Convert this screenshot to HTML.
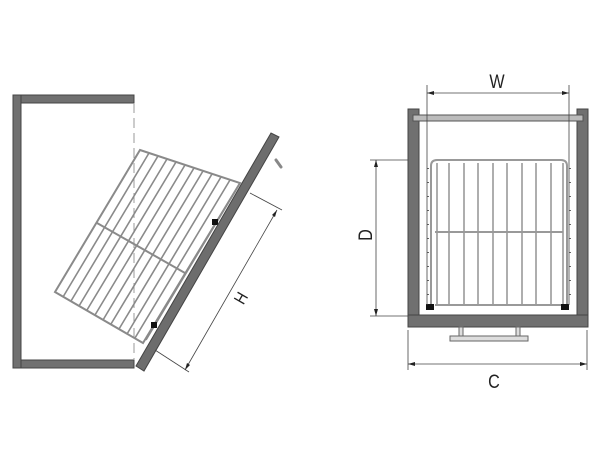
<!DOCTYPE html>
<html><head><meta charset="utf-8"><style>html,body{margin:0;padding:0;background:#fff}svg{display:block}</style></head>
<body>
<svg width="600" height="460" viewBox="0 0 600 460" xmlns="http://www.w3.org/2000/svg" font-family="'Liberation Sans', sans-serif">
<g fill="#707070" stroke="#444" stroke-width="1">
<rect x="13" y="95" width="8" height="273"/>
<rect x="21" y="95" width="113" height="8"/>
<rect x="21" y="360" width="113" height="8"/>
</g>
<line x1="134" y1="103" x2="134" y2="360" stroke="#999" stroke-width="1" stroke-dasharray="10,5"/>
<g stroke="#8a8a8a" stroke-width="1.6" fill="none">
<polygon points="140,150 240,183 143,343 55,292" stroke-width="2"/>
<line x1="149" y1="153" x2="63" y2="297"/>
<line x1="158" y1="156" x2="71" y2="301"/>
<line x1="167" y1="159" x2="79" y2="306"/>
<line x1="176" y1="162" x2="87" y2="310"/>
<line x1="185" y1="165" x2="95" y2="315"/>
<line x1="194" y1="168" x2="103" y2="320"/>
<line x1="203" y1="171" x2="111" y2="324"/>
<line x1="212" y1="174" x2="119" y2="329"/>
<line x1="221" y1="177" x2="127" y2="334"/>
<line x1="230" y1="180" x2="135" y2="338"/>
<line x1="97" y1="223" x2="185" y2="273" stroke-width="2"/>
<line x1="236" y1="190" x2="146" y2="340"/>
</g>
<rect x="212" y="219" width="6" height="6" fill="#111"/>
<rect x="151" y="322" width="6" height="6" fill="#111"/>
<polygon points="136,366 271,133 279,137 144,371" fill="#6d6d6d" stroke="#444" stroke-width="1"/>
<line x1="276" y1="160" x2="281" y2="167" stroke="#888" stroke-width="3" stroke-linecap="round"/>
<g stroke="#444" stroke-width="0.8">
<line x1="250" y1="193" x2="282" y2="210"/>
<line x1="155" y1="350" x2="189" y2="372"/>
<line x1="277" y1="210" x2="185" y2="370"/>
</g>
<polygon points="277,210 272,215 275,217" fill="#222"/>
<polygon points="185,370 190,365 187,363" fill="#222"/>
<text x="0" y="0" font-size="17" fill="#222" transform="translate(246,301) rotate(-60) scale(0.85,1)" text-anchor="middle">H</text>

<g fill="#707070" stroke="#444" stroke-width="1">
<rect x="408" y="109" width="11" height="207"/>
<rect x="577" y="109" width="11" height="207"/>
<rect x="408" y="315" width="180" height="12"/>
</g>
<rect x="413" y="115" width="170" height="6" fill="#bbb" stroke="#555" stroke-width="1"/>
<g fill="#ddd" stroke="#666" stroke-width="1">
<rect x="459" y="327" width="4" height="9"/>
<rect x="516" y="327" width="4" height="9"/>
<rect x="450" y="336" width="78" height="5"/>
</g>
<g stroke="#999" fill="none" stroke-width="1.6">
<path d="M431,305 V166 Q431,160 437,160 H561 Q567,160 567,166 V305" stroke-width="2"/>
<line x1="435" y1="305" x2="563" y2="305" stroke-width="2"/>
<line x1="435" y1="232" x2="563" y2="232" stroke-width="2"/>
<line x1="437" y1="163" x2="437" y2="305"/>
<line x1="449" y1="163" x2="449" y2="305"/>
<line x1="464" y1="163" x2="464" y2="305"/>
<line x1="478" y1="163" x2="478" y2="305"/>
<line x1="493" y1="163" x2="493" y2="305"/>
<line x1="507" y1="163" x2="507" y2="305"/>
<line x1="522" y1="163" x2="522" y2="305"/>
<line x1="536" y1="163" x2="536" y2="305"/>
<line x1="551" y1="163" x2="551" y2="305"/>
<line x1="563" y1="163" x2="563" y2="305"/>
<line x1="428" y1="168" x2="428" y2="305" stroke-dasharray="1,13" stroke="#666" stroke-width="2"/>
<line x1="570" y1="168" x2="570" y2="305" stroke-dasharray="1,13" stroke="#666" stroke-width="2"/>
</g>
<rect x="426" y="304" width="8" height="6" fill="#111"/>
<rect x="561" y="304" width="8" height="6" fill="#111"/>
<g stroke="#444" stroke-width="0.8">
<line x1="427" y1="85" x2="427" y2="305"/>
<line x1="569" y1="85" x2="569" y2="305"/>
<line x1="427" y1="93" x2="569" y2="93"/>
<line x1="370" y1="160" x2="408" y2="160"/>
<line x1="370" y1="316" x2="408" y2="316"/>
<line x1="376" y1="160" x2="376" y2="316"/>
<line x1="408" y1="330" x2="408" y2="370"/>
<line x1="587" y1="330" x2="587" y2="370"/>
<line x1="408" y1="364" x2="587" y2="364"/>
</g>
<g fill="#222">
<polygon points="427,93 434,91 434,95"/>
<polygon points="569,93 562,91 562,95"/>
<polygon points="376,160 374,167 378,167"/>
<polygon points="376,316 374,309 378,309"/>
<polygon points="408,364 415,362 415,366"/>
<polygon points="587,364 580,362 580,366"/>
</g>
<text x="0" y="0" font-size="19" fill="#222" text-anchor="middle" transform="translate(497,88) scale(0.85,1)">W</text>
<text x="0" y="0" font-size="19" fill="#222" text-anchor="middle" transform="translate(372,235) rotate(-90) scale(0.85,1)">D</text>
<text x="0" y="0" font-size="19" fill="#222" text-anchor="middle" transform="translate(494,388) scale(0.85,1)">C</text>
</svg>
</body></html>
